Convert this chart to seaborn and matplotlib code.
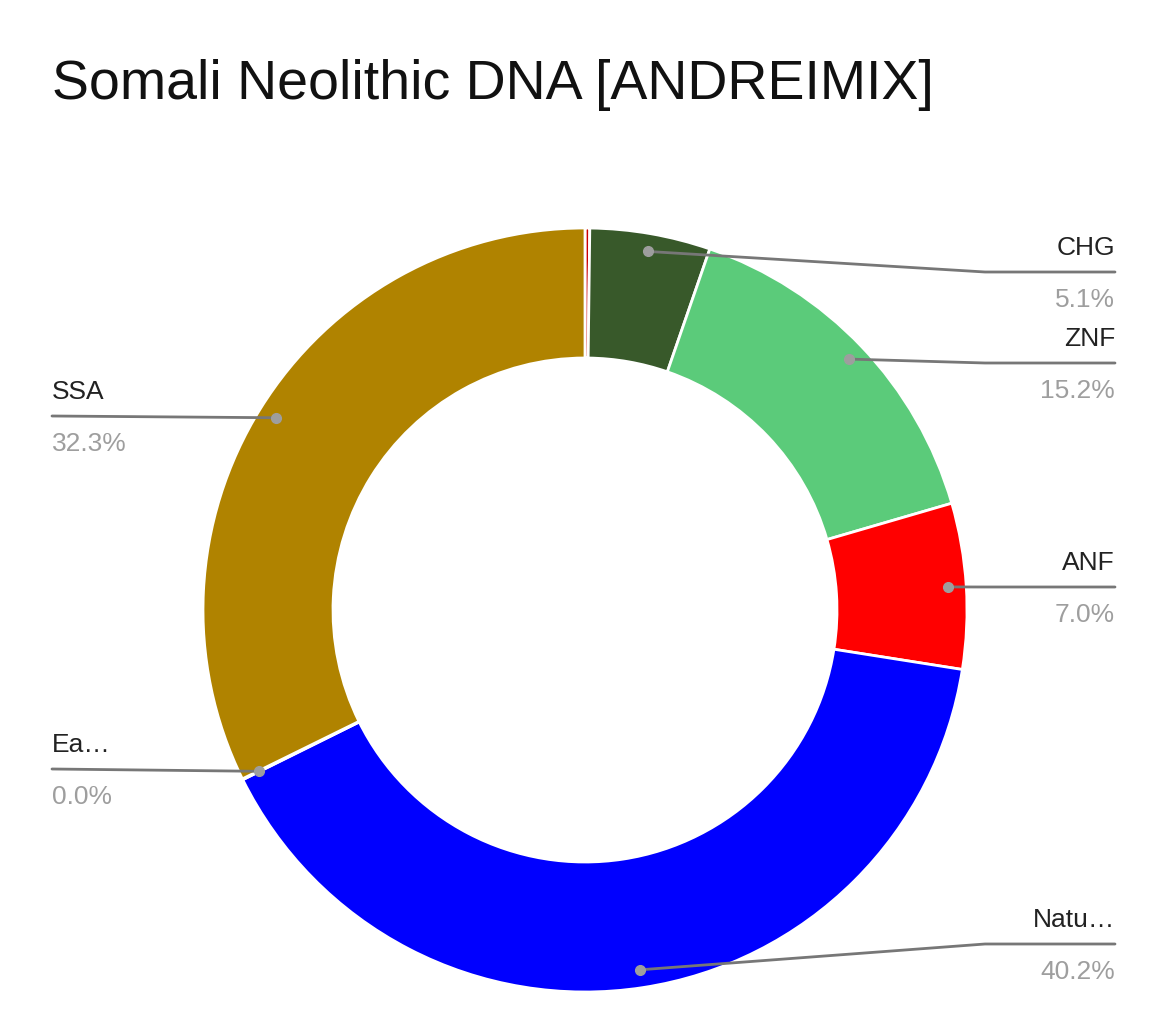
import matplotlib
matplotlib.use("Agg")
import matplotlib.pyplot as plt
import seaborn as sns
import numpy as np

sns.set_theme(style="white")
plt.rcParams['font.family'] = ['Liberation Sans', 'DejaVu Sans']

labels = ["Other", "CHG", "ZNF", "ANF", "Natu…", "Ea…", "SSA"]
values = [0.2, 5.1, 15.2, 7.0, 40.2, 0.04, 32.3]
pct_text = ["", "5.1%", "15.2%", "7.0%", "40.2%", "0.0%", "32.3%"]
colors = ["#cc0000", "#38592a", "#5bcb7a", "#ff0000", "#0000ff", "#8b5a2b", "#b08300"]

W, H = 1170, 1033
fig = plt.figure(figsize=(W/100, H/100), dpi=100)
ax = fig.add_axes([0, 0, 1, 1])
cx, cy, R = 585, H - 610, 382
wedges, _ = ax.pie(values, colors=colors, startangle=90, counterclock=False,
                   center=(cx, cy), radius=R,
                   wedgeprops=dict(width=130, edgecolor="white", linewidth=2))
ax.set_xlim(0, W); ax.set_ylim(0, H); ax.set_aspect("equal"); ax.axis("off")

# label layout: (line y in pixels from top, side)
layout = {1: (272, "r"), 2: (363, "r"), 3: (587, "r"), 4: (944, "r"),
          5: (769, "l"), 6: (416, "l")}
for i, (ly, side) in layout.items():
    w = wedges[i]
    a = np.deg2rad((w.theta1 + w.theta2) / 2)
    px, py = cx + 364*np.cos(a), cy + 364*np.sin(a)
    ly = H - ly
    if side == "r":
        xs, ys = [px, 985, 1115], [py, ly, ly]
        tx, ha = 1115, "right"
    else:
        xs, ys = [px, 52], [py, ly]
        tx, ha = 52, "left"
    ax.plot(xs, ys, color="#777777", lw=2, zorder=3)
    ax.plot(px, py, "o", color="#9e9e9e", ms=7, zorder=4)
    ax.text(tx, ly + 24, labels[i], ha=ha, va="center", fontsize=19, color="#222222")
    ax.text(tx, ly - 28, pct_text[i], ha=ha, va="center", fontsize=19, color="#9e9e9e")

ax.text(52, H - 85, "Somali Neolithic DNA [ANDREIMIX]", ha="left", va="center",
        fontsize=40, color="#111111")
fig.savefig("out.png", dpi=100)
